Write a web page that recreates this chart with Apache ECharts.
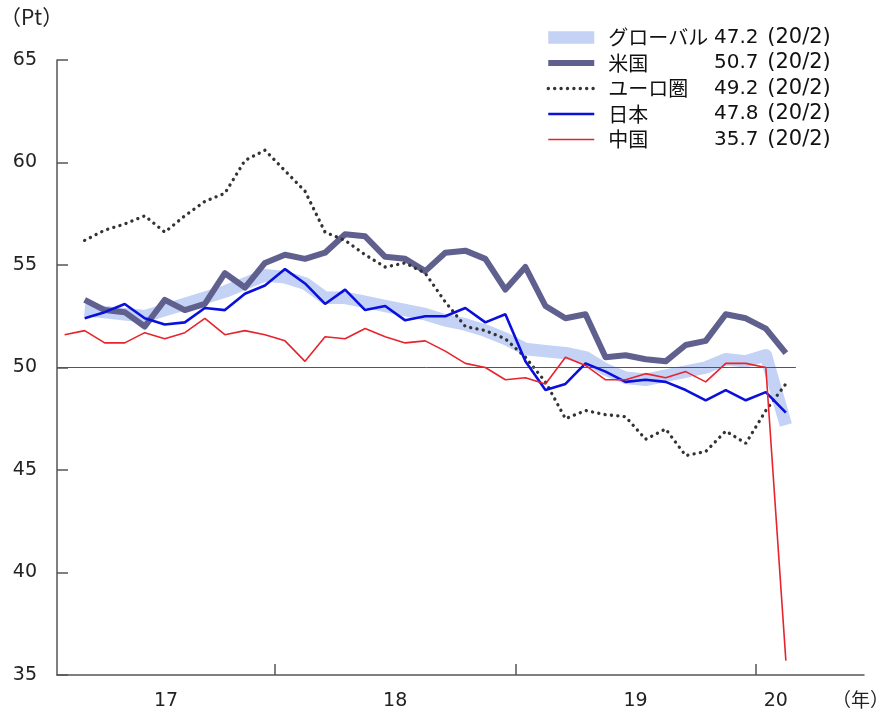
<!DOCTYPE html>
<html>
<head>
<meta charset="utf-8">
<script src="https://cdn.jsdelivr.net/npm/echarts@6/dist/echarts.min.js"></script>
<style>
  html, body { margin: 0; padding: 0; background: #fff; }
  #chart { width: 881px; height: 715px; }
</style>
</head>
<body>
<div id="chart"></div>
<script>
// Manufacturing PMI, monthly, 2017/2 - 2020/2
const months = [
  '17/2', '17/3', '17/4', '17/5', '17/6', '17/7', '17/8', '17/9', '17/10', '17/11', '17/12',
  '18/1', '18/2', '18/3', '18/4', '18/5', '18/6', '18/7', '18/8', '18/9', '18/10', '18/11', '18/12',
  '19/1', '19/2', '19/3', '19/4', '19/5', '19/6', '19/7', '19/8', '19/9', '19/10', '19/11', '19/12',
  '20/1', '20/2'
];

const globalPmi = [
  null, 52.8, 52.7, 52.6, 52.5, 52.8, 53.1, 53.4, 53.7, 54.1, 54.5,
  54.4, 54.1, 53.4, 53.4, 53.2, 53.0, 52.8, 52.6, 52.3, 52.1, 51.8, 51.4,
  50.9, 50.8, 50.7, 50.5, 49.9, 49.5, 49.4, 49.6, 49.8, 50.0, 50.4, 50.3,
  50.6, 47.2
];
const usPmi = [
  null, 53.3, 52.8, 52.7, 52.0, 53.3, 52.8, 53.1, 54.6, 53.9, 55.1,
  55.5, 55.3, 55.6, 56.5, 56.4, 55.4, 55.3, 54.7, 55.6, 55.7, 55.3, 53.8,
  54.9, 53.0, 52.4, 52.6, 50.5, 50.6, 50.4, 50.3, 51.1, 51.3, 52.6, 52.4,
  51.9, 50.7
];
const euroPmi = [
  null, 56.2, 56.7, 57.0, 57.4, 56.6, 57.4, 58.1, 58.5, 60.1, 60.6,
  59.6, 58.6, 56.6, 56.2, 55.5, 54.9, 55.1, 54.6, 53.2, 52.0, 51.8, 51.4,
  50.5, 49.3, 47.5, 47.9, 47.7, 47.6, 46.5, 47.0, 45.7, 45.9, 46.9, 46.3,
  47.9, 49.2
];
const japanPmi = [
  null, 52.4, 52.7, 53.1, 52.4, 52.1, 52.2, 52.9, 52.8, 53.6, 54.0,
  54.8, 54.1, 53.1, 53.8, 52.8, 53.0, 52.3, 52.5, 52.5, 52.9, 52.2, 52.6,
  50.3, 48.9, 49.2, 50.2, 49.8, 49.3, 49.4, 49.3, 48.9, 48.4, 48.9, 48.4,
  48.8, 47.8
];
const chinaPmi = [
  51.6, 51.8, 51.2, 51.2, 51.7, 51.4, 51.7, 52.4, 51.6, 51.8, 51.6,
  51.3, 50.3, 51.5, 51.4, 51.9, 51.5, 51.2, 51.3, 50.8, 50.2, 50.0, 49.4,
  49.5, 49.2, 50.5, 50.1, 49.4, 49.4, 49.7, 49.5, 49.8, 49.3, 50.2, 50.2,
  50.0, 35.7
];

const seriesNames = ['グローバル', '米国', 'ユーロ圏', '日本', '中国'];
const yearLabels = ['17', '18', '19', '20'];
const yTicks = { min: 35, max: 65, step: 5 };
const boomBust = 50;

// x positions: months counted from January 2017 (= 0); months[0] is February 2017
const firstMonthIndex = 1;
const xOf = k => k + firstMonthIndex;
const yearStarts = [11.5, 23.5, 35.5];           // Jan 2018, Jan 2019, Jan 2020 boundaries
const xMin = 0.62, xMax = 40.9;
const lastX = xOf(months.length - 1) + 0.5;      // end of the final month
const yearLabelPos = [
  (xMin + yearStarts[0]) / 2,
  (yearStarts[0] + yearStarts[1]) / 2,
  (yearStarts[1] + yearStarts[2]) / 2,
  (yearStarts[2] + lastX) / 2
];

const toPairs = arr => arr.map((v, k) => [xOf(k), v]).filter(p => p[1] !== null);
const lastOf = arr => arr[arr.length - 1];
const values = [globalPmi, usPmi, euroPmi, japanPmi, chinaPmi];
const lastMonth = lastOf(months);

const numFont = 'DejaVu Sans';
const jpFont = 'Noto Sans CJK JP';

const chart = echarts.init(document.getElementById('chart'), null, { renderer: 'canvas' });

chart.setOption({
  animation: false,
  backgroundColor: '#ffffff',
  grid: { left: 57, right: 17, top: 60, bottom: 40 },
  legend: {
    data: seriesNames,
    orient: 'vertical',
    left: 537,
    top: 22,
    itemWidth: 46,
    itemHeight: 13,
    itemGap: 4.5,
    selectedMode: false,
    lineStyle: { width: 'inherit', type: 'inherit', cap: 'inherit' },
    itemStyle: { opacity: 0 },
    formatter: name => {
      const i = seriesNames.indexOf(name);
      return '{n|' + name + '}{v|' + lastOf(values[i]).toFixed(1) + '}{d|(' + lastMonth + ')}';
    },
    textStyle: {
      color: '#111',
      rich: {
        n: { fontFamily: jpFont, fontSize: 20, width: 106, padding: [0, 0, 0, 9], color: '#111' },
        v: { fontFamily: numFont, fontSize: 20, width: 44, align: 'right', color: '#111' },
        d: { fontFamily: numFont, fontSize: 21, padding: [0, 0, 0, 9], color: '#111' }
      }
    }
  },
  xAxis: {
    type: 'value',
    min: xMin,
    max: xMax,
    splitLine: { show: false },
    axisLine: { show: true, onZero: false, lineStyle: { color: '#555', width: 1.5 } },
    axisTick: {
      show: true,
      inside: true,
      length: 11,
      customValues: yearStarts,
      lineStyle: { color: '#555', width: 1.5 }
    },
    axisLabel: {
      customValues: yearLabelPos,
      formatter: v => {
        const i = yearLabelPos.findIndex(p => Math.abs(p - v) < 1e-6);
        return i >= 0 ? yearLabels[i] : '';
      },
      fontFamily: numFont,
      fontSize: 19,
      color: '#222',
      margin: 17
    }
  },
  yAxis: {
    type: 'value',
    min: yTicks.min,
    max: yTicks.max,
    interval: yTicks.step,
    splitLine: { show: false },
    axisLine: { show: true, lineStyle: { color: '#555', width: 1.5 } },
    axisTick: { show: true, inside: true, length: 11, lineStyle: { color: '#555', width: 1.5 } },
    axisLabel: { fontFamily: numFont, fontSize: 19, color: '#222', margin: 20 }
  },
  graphic: [
    { type: 'text', left: 0, top: 7, style: { text: '（Pt）', font: '21px "Noto Sans CJK JP"', fill: '#222' } },
    { type: 'text', left: 832, top: 690, style: { text: '（年）', font: '19px "Noto Sans CJK JP"', fill: '#222' } }
  ],
  series: [
    {
      name: seriesNames[0],
      type: 'line',
      data: toPairs(globalPmi),
      symbol: 'none',
      z: 1,
      lineStyle: { color: '#c4d2f6', width: 12.5, join: 'round' },
      itemStyle: { color: '#c4d2f6' },
      emphasis: { disabled: true },
      markLine: {
        silent: true,
        symbol: ['none', 'none'],
        label: { show: false },
        lineStyle: { color: '#555', width: 1, type: 'solid' },
        data: [[{ coord: [xMin, boomBust] }, { coord: [lastX, boomBust] }]]
      }
    },
    {
      name: seriesNames[1],
      type: 'line',
      data: toPairs(usPmi),
      symbol: 'none',
      z: 3,
      lineStyle: { color: '#60608f', width: 6, join: 'round' },
      itemStyle: { color: '#60608f' },
      emphasis: { disabled: true }
    },
    {
      name: seriesNames[2],
      type: 'line',
      data: toPairs(euroPmi),
      symbol: 'none',
      z: 4,
      lineStyle: { color: '#333333', width: 3.3, type: [0.1, 6.3], cap: 'round' },
      itemStyle: { color: '#333333' },
      emphasis: { disabled: true }
    },
    {
      name: seriesNames[3],
      type: 'line',
      data: toPairs(japanPmi),
      symbol: 'none',
      z: 5,
      lineStyle: { color: '#0a10dc', width: 2.6 },
      itemStyle: { color: '#0a10dc' },
      emphasis: { disabled: true }
    },
    {
      name: seriesNames[4],
      type: 'line',
      data: toPairs(chinaPmi),
      symbol: 'none',
      z: 6,
      lineStyle: { color: '#e8232b', width: 1.6 },
      itemStyle: { color: '#e8232b' },
      emphasis: { disabled: true }
    }
  ]
});
</script>
</body>
</html>
